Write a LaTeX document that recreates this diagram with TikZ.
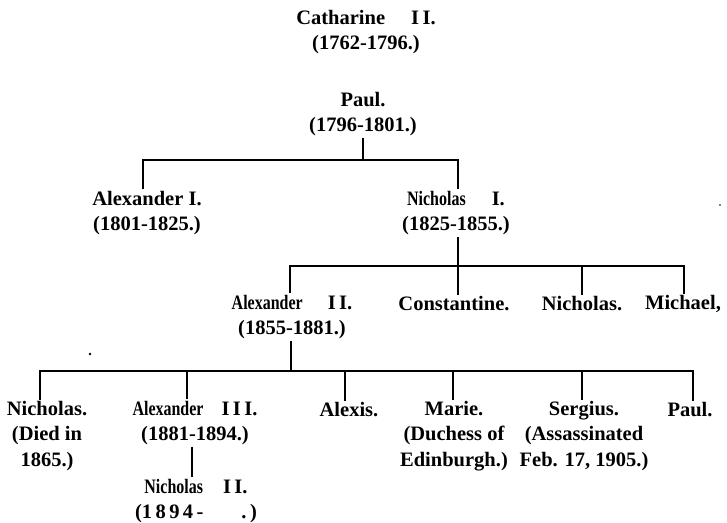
\documentclass[tikz,border=0pt]{standalone}
\usepackage{fontspec}
\setmainfont{Liberation Serif}
\newcommand{\cnd}[1]{\scalebox{0.78}[1]{#1}}
\tikzset{
  person/.style={font=\fontsize{20.5}{25.5}\selectfont\bfseries, align=center, inner sep=1.5pt, outer sep=0pt},
  link/.style={line width=2pt, line cap=butt}
}
\begin{document}
\begin{tikzpicture}[x=1pt,y=-1pt]
\fill[white] (0,0) rectangle (727,522);
\useasboundingbox (0,0) rectangle (727,522);

\node[person] (cath) at (366,32) {Catharine\hspace{26pt}I\,I.\\(1762-1796.)};
\node[person] (paul) at (363,114) {Paul.\\(1796-1801.)};
\node[person] (alexI) at (147,213) {Alexander I.\\(1801-1825.)};
\node[person] (nicI) at (456,213) {\cnd{Nicholas}\hspace{26pt}I.\\(1825-1855.)};
\node[person] (alexII) at (292,317) {\cnd{Alexander}\hspace{25pt}I\,I.\\(1855-1881.)};
\node[person] (const) at (454,304) {Constantine.};
\node[person] (nicholas) at (582,304) {Nicholas.};
\node[person] (michael) at (683,304) {Michael,};
\node[person] (nicD) at (47,436) {Nicholas.\\(Died in\\1865.)};
\node[person] (alexIII) at (195,423) {\cnd{Alexander}\hspace{18pt}I\,I\,I.\\(1881-1894.)};
\node[person] (nicII) at (196,501) {\cnd{Nicholas}\hspace{20pt}I\,I.\\(1\,8\,9\,4\,-\hspace{38pt}.\,)};
\node[person] (alexis) at (349,410) {Alexis.};
\node[person] (marie) at (454,436) {Marie.\\(Duchess of\\Edinburgh.)};
\node[person] (sergius) at (584,436) {Sergius.\\(Assassinated\\Feb. 17, 1905.)};
\node[person] (paulB) at (690,410) {Paul.};

\coordinate (b1) at (363,160);
\coordinate (b2) at (458,266);
\coordinate (b3) at (291,371);

% Paul's children
\draw[link] (paul.south) -- (paul.south |- b1);
\draw[link] ([xshift=-4pt]alexI.north) -- ([xshift=-4pt]alexI.north |- b1) -- ([xshift=2pt]nicI.north |- b1) -- ([xshift=2pt]nicI.north);

% Nicholas I's children
\draw[link] ([xshift=2pt]nicI.south) -- ([xshift=2pt]nicI.south |- b2);
\draw[link] ([xshift=-2pt]alexII.north) -- ([xshift=-2pt]alexII.north |- b2) -- ([xshift=1pt]michael.north |- b2) -- ([xshift=1pt]michael.north);
\draw[link] ([xshift=4pt]const.north) -- ([xshift=4pt]const.north |- b2);
\draw[link] (nicholas.north) -- (nicholas.north |- b2);

% Alexander II's children
\draw[link] ([xshift=-1pt]alexII.south) -- ([xshift=-1pt]alexII.south |- b3);
\draw[link] ([xshift=-7pt]nicD.north) -- ([xshift=-7pt]nicD.north |- b3) -- ([xshift=3pt]paulB.north |- b3) -- ([xshift=3pt]paulB.north);
\draw[link] ([xshift=-8pt]alexIII.north) -- ([xshift=-8pt]alexIII.north |- b3);
\draw[link] ([xshift=-4pt]alexis.north) -- ([xshift=-4pt]alexis.north |- b3);
\draw[link] ([xshift=-1pt]marie.north) -- ([xshift=-1pt]marie.north |- b3);
\draw[link] ([xshift=-2pt]sergius.north) -- ([xshift=-2pt]sergius.north |- b3);

% Alexander III's son
\draw[link] ([xshift=-3pt]alexIII.south) -- ([xshift=-4pt]nicII.north);

% stray specks
\fill (90,354) circle (1.3);
\fill (720,205) circle (0.9);
\end{tikzpicture}
\end{document}
